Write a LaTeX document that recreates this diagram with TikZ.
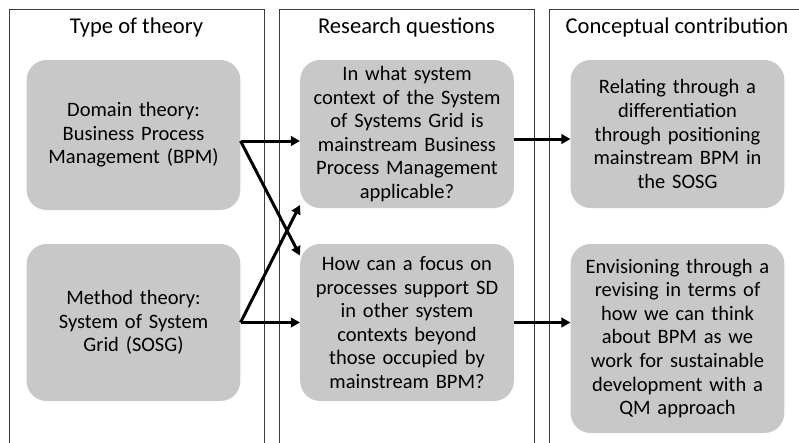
\documentclass[tikz,border=0pt]{standalone}
\usepackage{fontspec}
\setmainfont{Carlito}
\usepackage{tikz}
\usetikzlibrary{arrows.meta}
\usetikzlibrary{positioning}
\usepackage{xcolor}

\definecolor{boxgray}{RGB}{200,200,200}
\definecolor{framegray}{RGB}{60,60,60}

\tikzset{
    col/.style={draw=framegray, line width=0.9pt, anchor=north west, inner sep=0pt, minimum height=460pt},
    coltitle/.style={font=\fontsize{22.6}{27}\selectfont, anchor=base},
    box/.style={fill=boxgray, rounded corners=20pt, align=center, text width=207pt, minimum width=211pt, inner ysep=2pt, font=\fontsize{20.5}{23.6}\selectfont},
    arr/.style={-{Triangle[length=9pt, width=9.5pt]}, line width=3pt, black}
}

\begin{document}
\begin{tikzpicture}[x=1pt, y=-1pt]

        \useasboundingbox (0,0) rectangle (799,442);
        \clip (0,0) rectangle (799,442);

        % columns
        \node[col, minimum width=255pt] (C1) at (9,9) {};
        \node[col, minimum width=255pt] (C2) at (279,9) {};
        \node[col, minimum width=256pt] (C3) at (549,9) {};

        \node[coltitle] (T1) at (136.5,33.5) {Type of theory};
        \node[coltitle] (T2) at (406.5,33.5) {Research questions};
        \node[coltitle] (T3) at (677,33.5) {Conceptual contribution};

        % boxes
        \node[box, minimum height=150pt] (DOM) at (133.5,135) {Domain theory:\\Business Process\\Management (BPM)};
        \node[box, minimum height=157pt] (METH) at (133.5,322.5) {Method theory:\\System of System\\Grid (SOSG)};
        \node[box, minimum height=148pt] (RQA) at (407,134) {In what system\\context of the System\\of Systems Grid is\\mainstream Business\\Process Management\\applicable?};
        \node[box, minimum height=157pt] (RQB) at (407,322.5) {How can a focus on\\processes support SD\\in other system\\contexts beyond\\those occupied by\\mainstream BPM?};
        \node[box, minimum height=148pt] (REL) at (677.5,134) {Relating through a\\differentiation\\through positioning\\mainstream BPM in\\the SOSG};
        \node[box, minimum height=189pt] (ENV) at (677.5,338.5) {Envisioning through a\\revising in terms of\\how we can think\\about BPM as we\\work for sustainable\\development with a\\QM approach};

        \draw[arr] ([yshift=-6pt]DOM.east) -- ([yshift=-7pt]RQA.west);
        \draw[arr] ([yshift=-6pt]DOM.east) -- ([yshift=67pt]RQB.west);
        \draw[arr] (METH.east) -- (RQB.west);
        \draw[arr] (METH.east) -- ([yshift=-71pt]RQA.west);
        \draw[arr] ([yshift=-5pt]RQA.east) -- ([yshift=-5pt]REL.west);
        \draw[arr] (RQB.east) -- (RQB.east -| ENV.west);

    \end{tikzpicture}
\end{document}
